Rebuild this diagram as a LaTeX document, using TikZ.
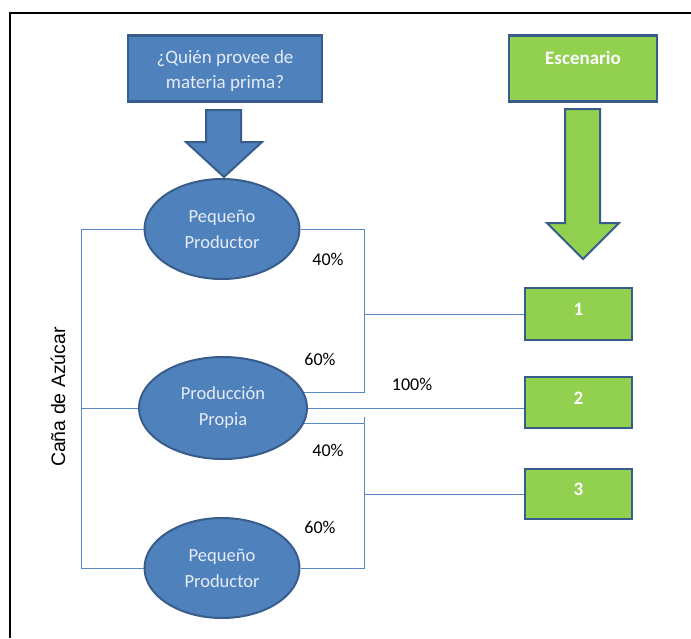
\documentclass[tikz,border=0pt]{standalone}
\usepackage{fontspec}
\setmainfont{Carlito}
\newfontfamily\arialfont{Liberation Sans}
\usetikzlibrary{shapes.geometric}
\definecolor{bfill}{HTML}{4F81BD}
\definecolor{bedge}{HTML}{385D8A}
\definecolor{gfill}{HTML}{92D050}
\definecolor{conn}{HTML}{5B87C5}
\definecolor{ltext}{HTML}{E6ECF5}
\tikzset{
  bluebox/.style={draw=bedge, fill=bfill, line width=2.2pt, minimum width=194pt, minimum height=66pt, inner sep=0pt},
  greenbox/.style={draw=bedge, fill=gfill, line width=2.2pt, inner sep=0pt},
  ell/.style={ellipse, draw=bedge, fill=bfill, line width=2pt, inner sep=0pt, text=ltext, font=\fontsize{18.5}{26}\selectfont, align=center},
  conline/.style={draw=conn, line width=1pt},
  pct/.style={font=\fontsize{18}{20}\selectfont, inner sep=0pt},
  numtext/.style={text=white, font=\bfseries\fontsize{19}{22}\selectfont, inner sep=0pt},
  bigarrow/.style={draw=bedge, line width=2pt, line join=miter}
}
\begin{document}
\begin{tikzpicture}[x=1pt, y=-1pt]
\useasboundingbox (0,0) rectangle (691,638);
% frame
\draw[line width=2pt] (10,638) -- (10,12.5) -- (691,12.5);
% top boxes
\node[bluebox] (q) at (225,68.5) {};
\node[text=ltext, align=center, font=\fontsize{19}{25}\selectfont, inner sep=0pt] (qt) at (225,71) {¿Quién provee de\\materia prima?};
\node[greenbox, minimum width=148pt, minimum height=66pt] (esc) at (583,68.5) {};
\node[numtext] (esct) at (583,58) {Escenario};
% block arrows
\draw[bigarrow, fill=bfill] (206,110) -- (241,110) -- (241,142) -- (262,142) -- (224,177) -- (186,142) -- (206,142) -- cycle;
\draw[bigarrow, fill=gfill] (565,109) -- (600,109) -- (600,223) -- (619,223) -- (583,259) -- (547,223) -- (565,223) -- cycle;
% ellipses
\node[ell, minimum width=155pt, minimum height=100pt] (e1) at (222,229) {Pequeño\\Productor};
\node[ell, minimum width=168pt, minimum height=102pt] (e2) at (223,408) {Producción\\Propia};
\node[ell, minimum width=155pt, minimum height=100pt] (e3) at (222,568) {Pequeño\\Productor};
% scenario boxes
\node[greenbox, minimum width=107pt, minimum height=52pt] (b1) at (578.5,314) {};
\node[greenbox, minimum width=107pt, minimum height=51pt] (b2) at (578.5,402.5) {};
\node[greenbox, minimum width=107pt, minimum height=50pt] (b3) at (578.5,494) {};
\node[numtext] (t1) at (578.5,309.5) {1};
\node[numtext] (t2) at (578.5,398) {2};
\node[numtext] (t3) at (578.5,489) {3};
% helper coordinates
\coordinate (L) at (81,0);
\coordinate (R) at (364,0);
\coordinate (r2top) at (364,417);
% left bracket
\draw[conline] (e1.west) -- (e1.west -| L) -- (e3.west -| L) -- (e3.west);
\draw[conline] (e2.west -| L) -- (e2.west);
% right bracket 1
\draw[conline] (e1.east) -- (e1.east -| R) -- (e2.11 -| R) -- (e2.11);
\draw[conline] (b1.west -| R) -- (b1.west);
% middle line
\draw[conline] (e2.east) -- (e2.east -| b2.west);
% right bracket 2
\draw[conline] (e2.-11) -- (e2.-11 -| R);
\draw[conline] (r2top) -- (e3.east -| R) -- (e3.east);
\draw[conline] (b3.west -| R) -- (b3.west);
% labels
\node[pct] (p1) at (328,259) {40\%};
\node[pct] (p2) at (320,359) {60\%};
\node[pct] (p3) at (412,384) {100\%};
\node[pct] (p4) at (328,450) {40\%};
\node[pct] (p5) at (320,527) {60\%};
\node[rotate=90, font=\arialfont\fontsize{19.5}{22}\selectfont, inner sep=0pt] (cana) at (58,397) {Caña de Azúcar};
\end{tikzpicture}
\end{document}
